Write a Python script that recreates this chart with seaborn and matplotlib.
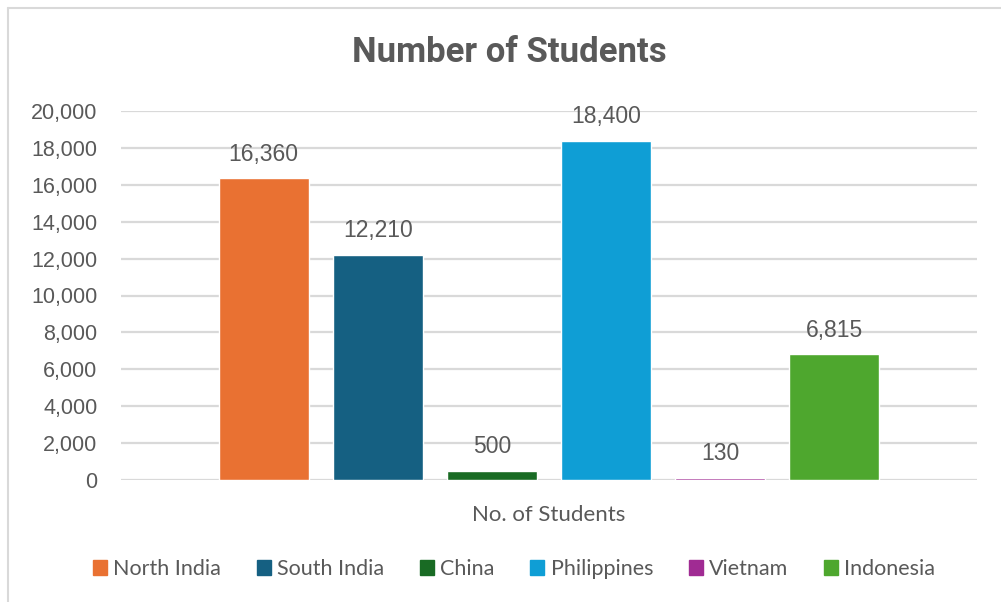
import matplotlib
matplotlib.use("Agg")
import matplotlib.pyplot as plt
from matplotlib.lines import Line2D
from matplotlib.ticker import FuncFormatter
import seaborn as sns
import pandas as pd

# Student counts by region
regions = ["North India", "South India", "China", "Philippines", "Vietnam", "Indonesia"]
students = [16360, 12210, 500, 18400, 130, 6815]
colors = ["#E97132", "#156082", "#196B24", "#0F9ED5", "#A02B93", "#4EA72E"]
category = "No. of Students"
y_ticks = [0, 2000, 4000, 6000, 8000, 10000, 12000, 14000, 16000, 18000, 20000]

df = pd.DataFrame({"group": [category] * len(regions), "region": regions, "students": students})

sns.set_theme(style="white")
plt.rcParams["font.family"] = ["Liberation Sans", "DejaVu Sans"]

TXT = "#595959"
GRID = "#D9D9D9"

fig = plt.figure(figsize=(10.01, 6.02), dpi=100)
ax = fig.add_axes([121 / 1001, 1 - 480 / 602, (977 - 121) / 1001, (480 - 111) / 602])

sns.barplot(data=df, x="group", y="students", hue="region", hue_order=regions,
            palette=colors, width=0.8, gap=0.21, saturation=1, ax=ax,
            legend=False, errorbar=None)

ax.set_xlim(-0.5, 0.5)
ax.set_ylim(0, 20000)
ax.set_yticks(y_ticks)
ax.yaxis.set_major_formatter(FuncFormatter(lambda v, p: f"{int(v):,}"))
ax.grid(axis="y", color=GRID, linewidth=1.6)
ax.set_axisbelow(True)
for s in ax.spines.values():
    s.set_visible(False)
ax.tick_params(axis="y", length=0, pad=17, labelsize=15.5, labelcolor=TXT)
ax.tick_params(axis="x", length=0, pad=18)
ax.set_xticks([0])
ax.set_xticklabels([category], fontsize=16, color=TXT, family="Lato")
ax.set_xlabel("")
ax.set_ylabel("")

for cont in ax.containers:
    ax.bar_label(cont, labels=[f"{int(v):,}" for v in cont.datavalues],
                 padding=9, fontsize=16.5, color=TXT)

fig.text(509 / 1001, 1 - 53 / 602, "Number of Students", ha="center", va="center",
         fontsize=25, fontweight="bold", color=TXT, family="Roboto")

handles = [plt.Rectangle((0, 0), 1, 1, color=c) for c in colors]
fig.legend(handles, regions, loc="center", bbox_to_anchor=(514 / 1001, 1 - 569 / 602),
           ncol=6, frameon=False, handlelength=0.65, handleheight=0.65,
           handletextpad=0.3, columnspacing=1.65,
           prop={"family": "Lato", "size": 15.5}, labelcolor=TXT)

# Chart frame lines (top and left)
fig.add_artist(Line2D([8 / 1001, 1], [1 - 8 / 602] * 2, color=GRID, lw=1.5, transform=fig.transFigure))
fig.add_artist(Line2D([8 / 1001] * 2, [0, 1 - 8 / 602], color=GRID, lw=1.5, transform=fig.transFigure))

fig.savefig("out.png", dpi=100, facecolor="white")
